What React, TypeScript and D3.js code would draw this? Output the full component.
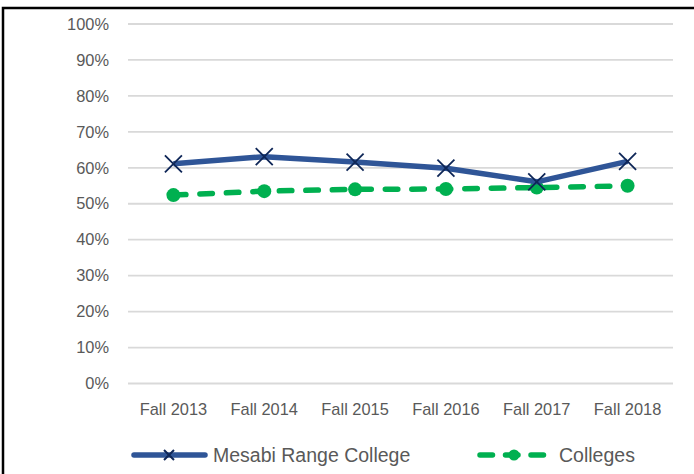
import React, { useEffect, useRef } from 'react'
import * as d3 from 'd3'

const terms = ['Fall 2013', 'Fall 2014', 'Fall 2015', 'Fall 2016', 'Fall 2017', 'Fall 2018']
const mesabi = [0.611, 0.631, 0.616, 0.599, 0.561, 0.618]
const colleges = [0.524, 0.535, 0.540, 0.541, 0.545, 0.550]
const yTicks = [0, 0.1, 0.2, 0.3, 0.4, 0.5, 0.6, 0.7, 0.8, 0.9, 1]

const font = '"Liberation Sans", Arial, sans-serif'

export default function App() {
  const ref = useRef<SVGSVGElement>(null)

  useEffect(() => {
    const W = 694, H = 474
    const svg = d3.select(ref.current).attr('width', W).attr('height', H)
    svg.selectAll('*').remove()

    svg.append('rect').attr('width', W).attr('height', H).attr('fill', '#fff')
    // outer chart frame (runs off the right/bottom of the picture)
    svg.append('rect').attr('x', 3).attr('y', 8).attr('width', W + 20).attr('height', H + 20)
      .attr('fill', 'none').attr('stroke', '#000').attr('stroke-width', 2.5)

    const x = d3.scaleBand().domain(terms).range([128, 673])
    const y = d3.scaleLinear().domain([0, 1]).range([383.5, 24])
    const cx = (d: string) => (x(d) as number) + x.bandwidth() / 2

    // gridlines
    svg.append('g').selectAll('line').data(yTicks).join('line')
      .attr('x1', 128).attr('x2', 673)
      .attr('y1', d => y(d)).attr('y2', d => y(d))
      .attr('stroke', '#D9D9D9').attr('stroke-width', 1.8)

    // y labels
    svg.append('g').selectAll('text').data(yTicks).join('text')
      .attr('x', 109).attr('y', d => y(d)).attr('dy', '0.35em')
      .attr('text-anchor', 'end').attr('font-family', font).attr('font-size', 16.4)
      .attr('fill', '#595959').text(d => d3.format('.0%')(d))

    // x labels
    svg.append('g').selectAll('text').data(terms).join('text')
      .attr('x', d => cx(d)).attr('y', 415)
      .attr('text-anchor', 'middle').attr('font-family', font).attr('font-size', 16.4)
      .attr('fill', '#595959').text(d => d)

    const line = d3.line<number>().x((_, i) => cx(terms[i])).y(d => y(d))

    // Colleges (dashed green)
    svg.append('path').attr('d', line(colleges)).attr('fill', 'none')
      .attr('stroke', '#00B050').attr('stroke-width', 5.5)
      .attr('stroke-dasharray', '12.5 14').attr('stroke-linecap', 'round')
    svg.append('g').selectAll('circle').data(colleges).join('circle')
      .attr('cx', (_, i) => cx(terms[i])).attr('cy', d => y(d)).attr('r', 7)
      .attr('fill', '#00B050')

    // Mesabi Range College (solid blue)
    svg.append('path').attr('d', line(mesabi)).attr('fill', 'none')
      .attr('stroke', '#2F5597').attr('stroke-width', 5.5).attr('stroke-linejoin', 'round')
    const xMark = (g: any, px: number, py: number, s: number, w: number) => {
      g.append('path')
        .attr('d', `M${px - s},${py - s}L${px + s},${py + s}M${px - s},${py + s}L${px + s},${py - s}`)
        .attr('stroke', '#0E2657').attr('stroke-width', w).attr('fill', 'none')
    }
    const mg = svg.append('g')
    mesabi.forEach((d, i) => xMark(mg, cx(terms[i]), y(d), 8.5, 1.8))

    // legend
    const ly = 455
    const lg = svg.append('g')
    lg.append('line').attr('x1', 134).attr('x2', 205).attr('y1', ly).attr('y2', ly)
      .attr('stroke', '#2F5597').attr('stroke-width', 5.5).attr('stroke-linecap', 'round')
    xMark(lg, 169, ly, 5, 2)
    lg.append('text').attr('x', 213).attr('y', ly).attr('dy', '0.35em')
      .attr('font-family', font).attr('font-size', 19.5).attr('fill', '#595959')
      .text('Mesabi Range College')

    lg.append('line').attr('x1', 480).attr('x2', 544).attr('y1', ly).attr('y2', ly)
      .attr('stroke', '#00B050').attr('stroke-width', 5.5).attr('stroke-linecap', 'round')
      .attr('stroke-dasharray', '12.5 13')
    lg.append('circle').attr('cx', 514).attr('cy', ly).attr('r', 5.5).attr('fill', '#00B050')
    lg.append('text').attr('x', 559).attr('y', ly).attr('dy', '0.35em')
      .attr('font-family', font).attr('font-size', 19.5).attr('fill', '#595959')
      .text('Colleges')
  }, [])

  return (
    <div style={{ position: 'absolute', left: 0, top: 0 }}>
      <svg ref={ref} style={{ display: 'block' }}></svg>
    </div>
  )
}
